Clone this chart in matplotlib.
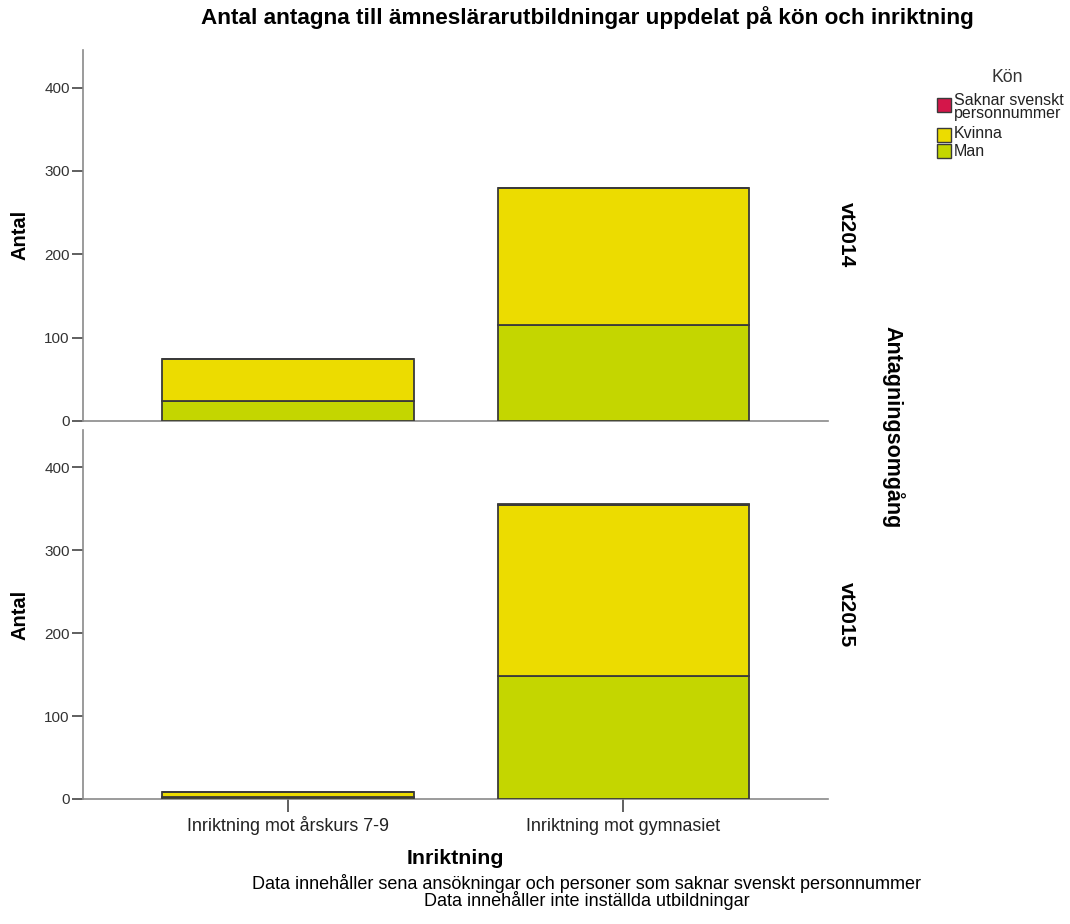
import matplotlib
matplotlib.use("Agg")
import matplotlib.pyplot as plt
from matplotlib.patches import Rectangle
import numpy as np

plt.rcParams['font.family'] = ['Liberation Sans', 'DejaVu Sans']

categories = ["Inriktning mot årskurs 7-9", "Inriktning mot gymnasiet"]
rounds = ["vt2014", "vt2015"]
legend_labels = ["Saknar svenskt\npersonnummer", "Kvinna", "Man"]
man = {"vt2014": [24, 115], "vt2015": [3, 148]}
kvinna = {"vt2014": [50, 164], "vt2015": [5, 206]}
saknar = {"vt2014": [0, 0], "vt2015": [0, 2]}
col_man, col_kvinna, col_saknar = "#c4d600", "#ecdc00", "#d4164a"
yticks = [0, 100, 200, 300, 400]
footnote = ("Data innehåller sena ansökningar och personer som saknar svenskt personnummer\n"
            "Data innehåller inte inställda utbildningar")

W, H = 1070, 924
fig = plt.figure(figsize=(W / 100, H / 100), dpi=100)

def ax_rect(x0, y0, x1, y1):
    return [x0 / W, 1 - y1 / H, (x1 - x0) / W, (y1 - y0) / H]

def fx(px):
    return px / W

def fy(py):
    return 1 - py / H

axes = [fig.add_axes(ax_rect(83, 50, 828, 421)), fig.add_axes(ax_rect(83, 430, 828, 799))]
x = np.arange(len(categories))
edge = "#3a3a3a"
for i, (ax, r) in enumerate(zip(axes, rounds)):
    m = np.array(man[r]); k = np.array(kvinna[r]); s = np.array(saknar[r])
    ax.bar(x, m, width=0.75, color=col_man, edgecolor=edge, linewidth=1.3, zorder=3)
    ax.bar(x, k, bottom=m, width=0.75, color=col_kvinna, edgecolor=edge, linewidth=1.3, zorder=3)
    ax.bar(x, s, bottom=m + k, width=0.75, color=col_saknar, edgecolor=edge, linewidth=1.3, zorder=3)
    ax.set_xlim(-0.611, 1.61)
    ax.set_ylim(0, 445)
    ax.set_yticks(yticks)
    ax.set_yticklabels([str(v) for v in yticks], fontsize=11, color="#333333")
    for sp in ["top", "right"]:
        ax.spines[sp].set_visible(False)
    for sp in ["left", "bottom"]:
        ax.spines[sp].set_color("#8a8a8a")
        ax.spines[sp].set_linewidth(1.2)
    ax.tick_params(axis="y", length=8, width=1.2, color="#444444", pad=1.5)
    if i == 0:
        ax.set_xticks([])
    else:
        ax.set_xticks(x)
        ax.set_xticklabels(categories, fontsize=12.9, color="#222222")
        ax.tick_params(axis="x", length=9, width=1.2, color="#444444", pad=14)
        for lbl in ax.get_xticklabels():
            lbl.set_verticalalignment("baseline")

# facet labels and axis titles
for r, yc in zip(rounds, [235, 615]):
    fig.text(fx(846), fy(yc), r, rotation=-90, ha="center", va="center",
             fontsize=15, fontweight="bold")
for yc in [235, 615]:
    fig.text(fx(20), fy(yc), "Antal", rotation=90, ha="center", va="center",
             fontsize=14.4, fontweight="bold")
fig.text(fx(455), fy(859), "Inriktning", ha="center", va="center", fontsize=15.4, fontweight="bold")
fig.text(fx(893), fy(427), "Antagningsomgång", rotation=-90, ha="center", va="center",
         fontsize=15.5, fontweight="bold")

fig.text(fx(587), fy(18), "Antal antagna till ämneslärarutbildningar uppdelat på kön och inriktning",
         ha="center", va="center", fontsize=16.2, fontweight="bold")
fig.text(fx(587), fy(892), footnote, ha="center", va="center", multialignment="center",
         fontsize=13, linespacing=0.85)

# legend
fig.text(fx(1007), fy(77), "Kön", ha="center", va="center", fontsize=12.7, color="#333333")
leg_colors = [col_saknar, col_kvinna, col_man]
sq_tops = [98, 128, 144]
txt_y = [107, 134, 151]
for lab, c, top, ty in zip(legend_labels, leg_colors, sq_tops, txt_y):
    fig.add_artist(Rectangle((fx(937), fy(top + 14)), 14 / W, 14 / H, transform=fig.transFigure,
                             facecolor=c, edgecolor=edge, linewidth=1.0))
    fig.text(fx(954), fy(ty), lab, ha="left", va="center", fontsize=11.5, color="#222222",
             linespacing=0.8)

fig.savefig("out.png", dpi=100)
